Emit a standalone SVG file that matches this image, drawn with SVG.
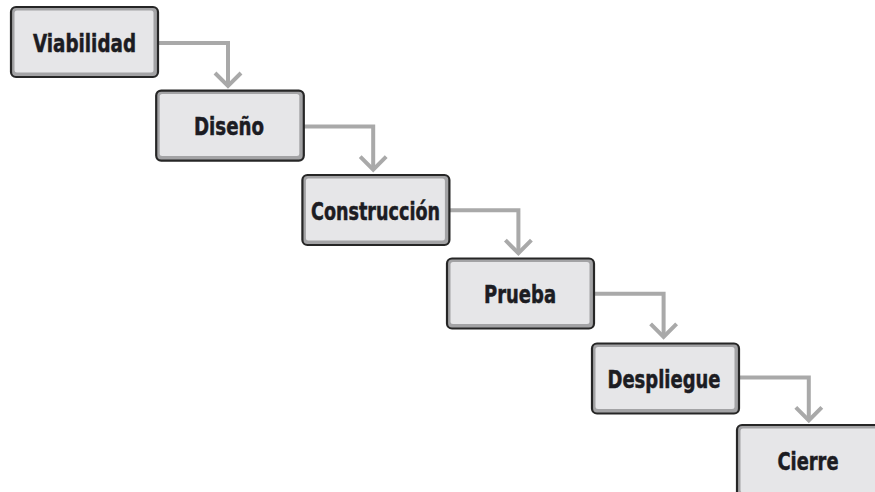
<svg xmlns="http://www.w3.org/2000/svg" width="875" height="492" viewBox="0 0 875 492">
<defs>
<style>
.outer{fill:#a3a3a5;stroke:#262626;stroke-width:2.2}
.inner{fill:#e6e6e8}
.lbl{font-family:"DejaVu Sans Condensed","DejaVu Sans",sans-serif;font-stretch:condensed;font-weight:bold;font-size:25px;fill:#1c1c22;stroke:#1c1c22;stroke-width:0.5;text-anchor:middle}
.conn{fill:none;stroke:#a9a9a9;stroke-width:4;stroke-linejoin:miter}
</style>
</defs>
<rect width="875" height="492" fill="#ffffff"/>
<g id="connectors">
<path class="conn" d="M158 43 H228 V86"/>
<polyline class="conn" points="215,73 228,86 241,73"/>
<path class="conn" d="M304 126.6 H373.2 V169.6"/>
<polyline class="conn" points="360.2,156.6 373.2,169.6 386.2,156.6"/>
<path class="conn" d="M449 210.2 H518.4 V253.2"/>
<polyline class="conn" points="505.4,240.2 518.4,253.2 531.4,240.2"/>
<path class="conn" d="M594 293.8 H663.6 V336.8"/>
<polyline class="conn" points="650.6,323.8 663.6,336.8 676.6,323.8"/>
<path class="conn" d="M739 377.4 H808.8 V420.4"/>
<polyline class="conn" points="795.8,407.4 808.8,420.4 821.8,407.4"/>
</g>
<g id="viabilidad">
<rect class="outer" x="11" y="7" width="147" height="70" rx="5"/>
<rect class="inner" x="14.5" y="10.5" width="139" height="62" rx="2.5"/>
<text class="lbl" x="84.5" y="52" textLength="103" lengthAdjust="spacingAndGlyphs">Viabilidad</text>
</g>
<g id="diseno">
<rect class="outer" x="156.2" y="90.6" width="147.6" height="70" rx="5"/>
<rect class="inner" x="159.7" y="94.1" width="139.6" height="62" rx="2.5"/>
<text class="lbl" x="229" y="134.6" textLength="70" lengthAdjust="spacingAndGlyphs">Diseño</text>
</g>
<g id="construccion">
<rect class="outer" x="302.4" y="175" width="147" height="70" rx="5"/>
<rect class="inner" x="305.9" y="178.5" width="139" height="62" rx="2.5"/>
<text class="lbl" x="375.5" y="219.5" textLength="129" lengthAdjust="spacingAndGlyphs">Construcción</text>
</g>
<g id="prueba">
<rect class="outer" x="447" y="258.5" width="147" height="70" rx="5"/>
<rect class="inner" x="450.5" y="262" width="139" height="62" rx="2.5"/>
<text class="lbl" x="520" y="303" textLength="72" lengthAdjust="spacingAndGlyphs">Prueba</text>
</g>
<g id="despliegue">
<rect class="outer" x="592" y="343.5" width="147" height="70" rx="5"/>
<rect class="inner" x="595.5" y="347" width="139" height="62" rx="2.5"/>
<text class="lbl" x="664" y="387.5" textLength="113" lengthAdjust="spacingAndGlyphs">Despliegue</text>
</g>
<g id="cierre">
<rect class="outer" x="737" y="425" width="147" height="72" rx="5"/>
<rect class="inner" x="740.5" y="428.5" width="139" height="64" rx="2.5"/>
<text class="lbl" x="808" y="469.5" textLength="61" lengthAdjust="spacingAndGlyphs">Cierre</text>
</g>
</svg>
